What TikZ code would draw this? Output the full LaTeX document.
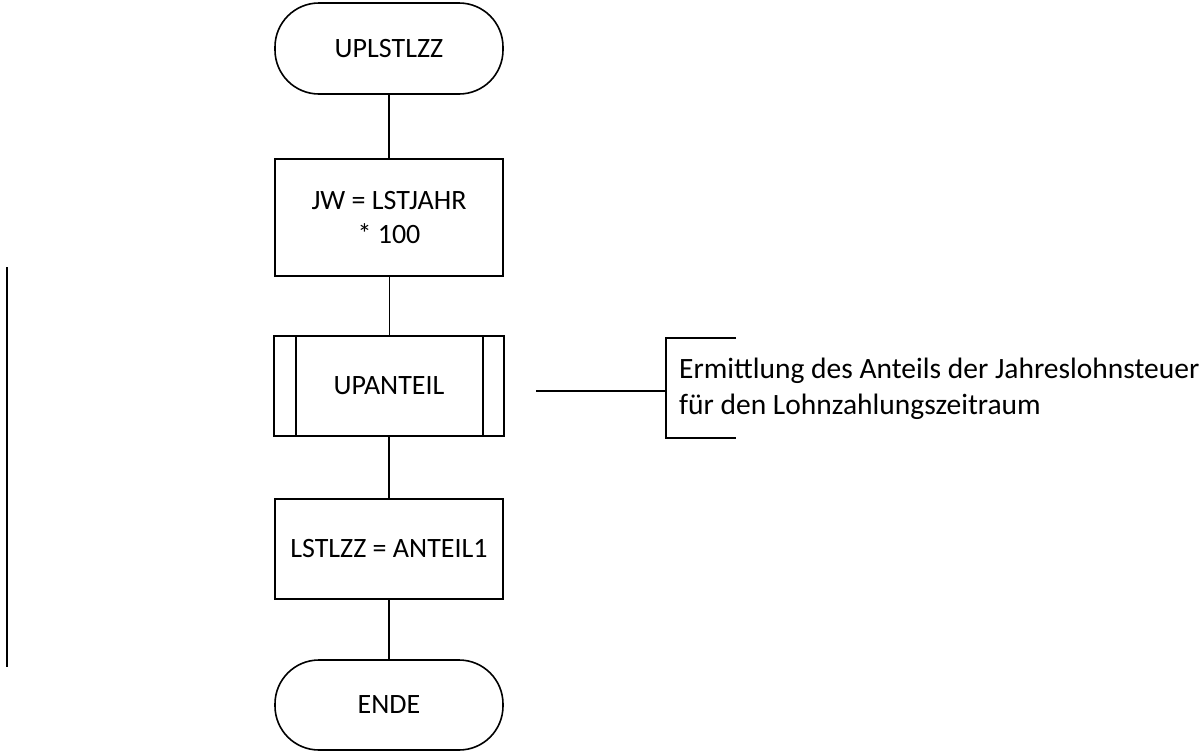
\documentclass[tikz,border=0pt]{standalone}
\usepackage{fontspec}
\setmainfont{Carlito}
\begin{document}
\begin{tikzpicture}[x=1pt,y=-1pt,
  every node/.style={font=\fontsize{28}{34}\selectfont, text=black},
  term/.style={draw, line width=1.6pt, minimum width=228pt, rounded corners=44pt, inner sep=0pt},
  proc/.style={draw, line width=1.6pt, minimum width=228pt, inner sep=0pt, align=center},
  conn/.style={line width=1.5pt},
  thinconn/.style={line width=0.8pt},
  notetext/.style={font=\fontsize{29.5}{36}\selectfont, anchor=west, align=left, inner sep=0pt}]
\useasboundingbox (0,0) rectangle (1203,753);
\node[term, minimum height=91pt] (start) at (389,48.5) {UPLSTLZZ};
\node[proc, minimum height=117pt] (jw) at (389,217.5) {JW = LSTJAHR\\* 100};
\node[proc, minimum width=230pt, minimum height=100pt] (up) at (389,386) {UPANTEIL};
\node[proc, minimum height=100pt] (lst) at (389,549) {LSTLZZ = ANTEIL1};
\node[term, minimum height=90pt] (ende) at (389,705) {ENDE};
\draw[line width=1.6pt] ([xshift=23pt]up.north west) -- ([xshift=23pt]up.south west);
\draw[line width=1.6pt] ([xshift=-22pt]up.north east) -- ([xshift=-22pt]up.south east);
\draw[conn] (start) -- (jw);
\draw[thinconn] (jw) -- (up);
\draw[conn] (up) -- (lst);
\draw[conn] (lst) -- (ende);
% annotation
\coordinate (a1) at (536,391);
\coordinate (b0) at (666,391);
\coordinate (bt) at (736,338);
\coordinate (bb) at (736,438);
\draw[conn] (a1) -- (b0);
\draw[conn] (bt) -| (bb -| b0) -- (bb);
\node[notetext] (note) at (679,389) {Ermittlung des Anteils der Jahreslohnsteuer\\für den Lohnzahlungszeitraum};
% left vertical line
\coordinate (l1) at (7,267);
\coordinate (l2) at (7,667);
\draw[line width=1.8pt] (l1) -- (l2);
\end{tikzpicture}
\end{document}
